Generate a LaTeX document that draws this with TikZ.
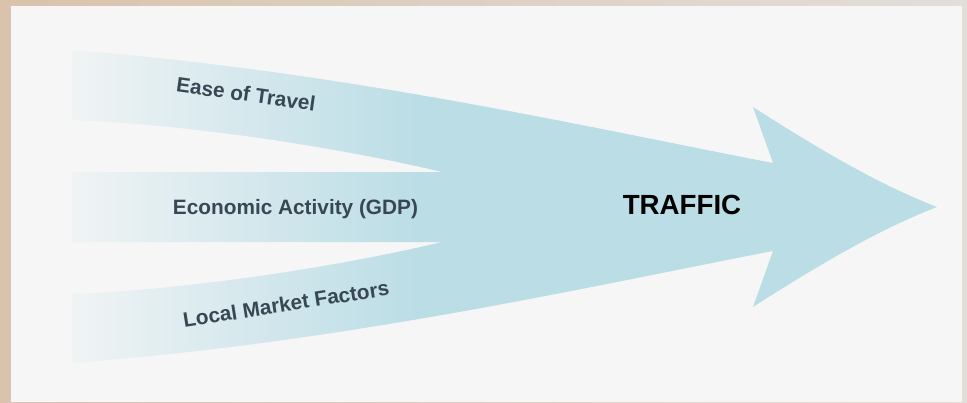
\documentclass[tikz,border=0pt]{standalone}
\usepackage{fontspec}
\setmainfont{Liberation Sans}
\definecolor{panel}{HTML}{F6F6F6}
\definecolor{arrowblue}{HTML}{BBDDE6}
\definecolor{bandtext}{HTML}{384754}
\definecolor{bgleft}{HTML}{D9C3AD}
\definecolor{bgright}{HTML}{E2DEDA}
\tikzset{
  factor/.style={font=\fontsize{20.8}{24}\selectfont\bfseries, text=bandtext, inner sep=0pt, anchor=base},
  mainlabel/.style={font=\fontsize{27.7}{32}\selectfont\bfseries, text=black, inner sep=0pt, anchor=base}
}
\begin{document}
\begin{tikzpicture}[x=1pt,y=-1pt]
\useasboundingbox (0,0) rectangle (967,402);
% blurred photo backdrop
\shade[left color=bgleft, right color=bgright] (0,0) rectangle (967,402);
% panel
\fill[panel] (11,6) rectangle (962,402);
% arrow with merging bands
\begin{scope}
\clip (72,50) .. controls (350,72) and (600,130) .. (773,163)
  -- (753,107)
  .. controls (820,150) and (880,185) .. (937,207)
  .. controls (880,229) and (820,264) .. (753,307)
  -- (773,251)
  .. controls (600,284) and (350,342) .. (72,363)
  -- (72,294)
  .. controls (200,289) and (350,264) .. (442,242)
  -- (72,242) -- (72,172) -- (442,172)
  .. controls (350,150) and (200,125) .. (72,120)
  -- cycle;
\shade[left color=panel!90!arrowblue, right color=arrowblue] (71,0) rectangle (420,402);
\fill[arrowblue] (419,0) rectangle (967,402);
\end{scope}
% labels
\node[factor, rotate=-8] (ease) at (245,101.4) {Ease of Travel};
\node[factor] (econ) at (295.5,214.5) {Economic Activity (GDP)};
\node[factor, rotate=9] (local) at (287.2,311.4) {Local Market Factors};
\node[mainlabel] (traffic) at (682,214) {TRAFFIC};
\end{tikzpicture}
\end{document}
